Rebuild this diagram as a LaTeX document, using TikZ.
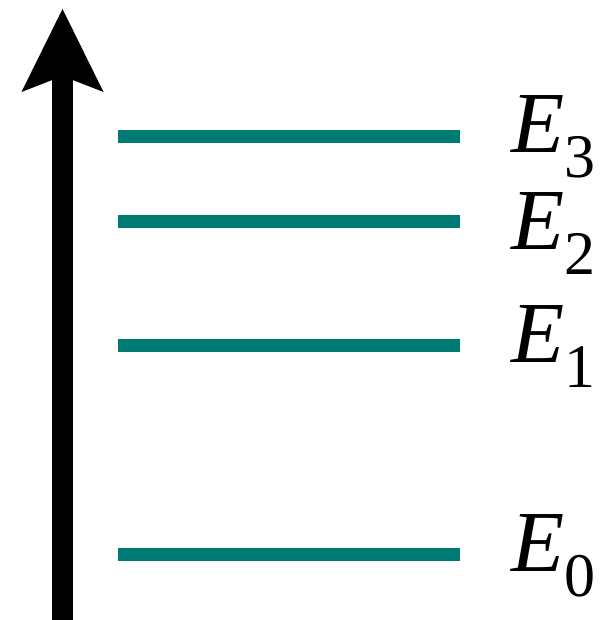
\documentclass[tikz,border=0pt]{standalone}
\usepackage{fontspec}
\setmainfont{Liberation Serif}
\usepackage{tikz}
\usetikzlibrary{arrows.meta}
\definecolor{lev}{RGB}{0,123,115}
\newcommand{\lvl}[1]{\fontsize{87}{87}\selectfont\textit{E}\raisebox{-25pt}{\fontsize{62}{62}\selectfont #1}}

\begin{document}
\begin{tikzpicture}[x=1pt,y=1pt]
  \useasboundingbox (0,0) rectangle (612,620);
  \coordinate (bot) at (62.5,0); \coordinate (top) at (62.5,611);
  \draw[line width=21pt,-{Stealth[length=83pt,width=82pt,inset=16pt,line width=0pt]}] (bot)--(top);
  \foreach \n/\y/\b in {0/65/48,1/274/257,2/398.5/370,3/483.5/467} {\draw[lev,line width=13pt] (118,\y)--(460,\y); \node[anchor=base west,inner sep=0pt] (E\n) at (511,\b) {\lvl{\n}};}
\end{tikzpicture}
\end{document}
